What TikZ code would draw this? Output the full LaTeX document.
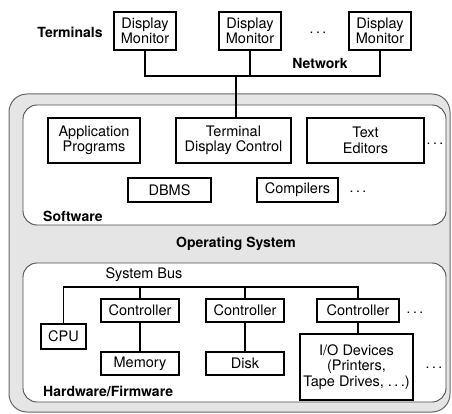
\documentclass[tikz,border=0pt]{standalone}
\usepackage{fontspec}
\setmainfont{TeX Gyre Heros}
\begin{document}
\begin{tikzpicture}[x=1pt,y=-1pt,
  box/.style={draw=black, line width=1.1pt, fill=white, inner sep=0pt, align=center,
    font=\fontsize{14.5}{15.5}\selectfont},
  lbl/.style={font=\fontsize{14}{15}\selectfont\bfseries, inner sep=0pt},
  plain/.style={font=\fontsize{14.5}{15.5}\selectfont, inner sep=0pt},
  dots/.style={inner sep=0pt, font=\fontsize{14}{15}\selectfont},
  conn/.style={line width=1.1pt, black},
  region/.style={rounded corners=14pt, line width=0.9pt, draw=black!70, fill=white}]
\useasboundingbox (0,0) rectangle (452,414);

% Operating system outer box
\draw[rounded corners=18pt, line width=1pt, draw=black!60, fill=black!10] (9,94) rectangle (450,412);
% Software and hardware regions
\draw[region] (23,105) rectangle (446,225);
\draw[region] (23,263) rectangle (446,402);

% Terminals
\node[lbl] (term) at (70,32) {Terminals};
\node[box, minimum width=62pt, minimum height=38pt] (dm1) at (145,31) {Display\\Monitor};
\node[box, minimum width=62pt, minimum height=38pt] (dm2) at (250,31) {Display\\Monitor};
\node[box, minimum width=62pt, minimum height=38pt] (dm3) at (380,31) {Display\\Monitor};
\node[dots] (tdots) at (318,33) {.\hspace{2.5pt}.\hspace{2.5pt}.};
\node[lbl] (net) at (320,63) {Network};
\coordinate (nj) at (236,76);

% Software
\node[box, minimum width=92pt, minimum height=45pt] (app) at (94,140.5) {Application\\Programs};
\node[box, minimum width=115pt, minimum height=45pt] (tdc) at (233.5,140.5) {Terminal\\Display Control};
\node[box, minimum width=117pt, minimum height=45pt] (ted) at (365.5,140.5) {Text\\Editors};
\node[dots] (sdots1) at (435,144) {.\hspace{2.5pt}.\hspace{2.5pt}.};
\node[box, minimum width=83pt, minimum height=24pt] (dbms) at (169.5,190) {DBMS};
\node[box, minimum width=81pt, minimum height=24pt] (comp) at (297.5,190) {Compilers};
\node[dots] (sdots2) at (358,192) {.\hspace{2.5pt}.\hspace{2.5pt}.};
\node[lbl, anchor=west] (sw) at (43,216) {Software};

\node[lbl] (os) at (236,244) {Operating System};

% Hardware
\node[plain] (bus) at (144,275) {System Bus};
\coordinate (busy) at (0,287);
\node[box, minimum width=45pt, minimum height=25pt] (cpu) at (63.5,336.5) {CPU};
\node[box, minimum width=78pt, minimum height=23pt] (ctrl1) at (140,310.5) {Controller};
\node[box, minimum width=78pt, minimum height=23pt] (mem) at (140,363.5) {Memory};
\node[box, minimum width=78pt, minimum height=23pt] (ctrl2) at (245,310.5) {Controller};
\node[box, minimum width=78pt, minimum height=23pt] (disk) at (245,363.5) {Disk};
\node[box, minimum width=82pt, minimum height=23pt] (ctrl3) at (358,310.5) {Controller};
\node[dots] (hdots1) at (415,313) {.\hspace{2.5pt}.\hspace{2.5pt}.};
\node[box, minimum width=113pt, minimum height=66pt] (io) at (356.5,367) {I/O Devices\\(Printers,\\Tape Drives, .\,.\,.)};
\node[dots] (hdots2) at (434,368) {.\hspace{2.5pt}.\hspace{2.5pt}.};
\node[lbl, anchor=west] (hw) at (43,391) {Hardware/Firmware};

% Network connectors
\draw[conn] (dm1.south) |- (dm3.south |- nj) -- (dm3.south);
\draw[conn] (dm2.south) -- (dm2.south |- nj);
\draw[conn] (nj) -- (nj |- tdc.north);

% Bus connectors
\draw[conn] (cpu.north) |- (ctrl3.north |- busy) -- (ctrl3.north);
\draw[conn] (ctrl1.north |- busy) -- (ctrl1.north);
\draw[conn] (ctrl2.north |- busy) -- (ctrl2.north);
\draw[conn] (ctrl1.south) -- (mem.north);
\draw[conn] (ctrl2.south) -- (disk.north);
\draw[conn] (ctrl3.south) -- (ctrl3.south |- io.north);
\end{tikzpicture}
\end{document}
